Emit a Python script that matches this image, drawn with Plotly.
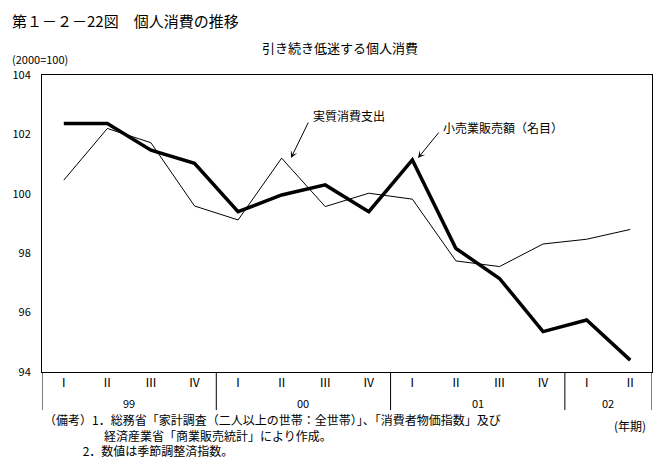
import plotly.graph_objects as go

quarters = ["Ⅰ", "Ⅱ", "Ⅲ", "Ⅳ", "Ⅰ", "Ⅱ", "Ⅲ", "Ⅳ", "Ⅰ", "Ⅱ", "Ⅲ", "Ⅳ", "Ⅰ", "Ⅱ"]
years = ["99", "00", "01", "02"]
year_centers = [1.5, 5.5, 9.5, 12.5]
year_bounds = [-0.5, 3.5, 7.5, 11.5, 13.5]

real_consumption = [100.46, 102.2, 101.72, 99.59, 99.12, 101.2, 99.57, 100.02,
                    99.82, 97.74, 97.55, 98.31, 98.47, 98.8]
retail_sales = [102.37, 102.37, 101.47, 101.03, 99.4, 99.96, 100.3, 99.4,
                101.14, 98.16, 97.15, 95.36, 95.75, 94.4]

yticks = [94, 96, 98, 100, 102, 104]

FONT = "Noto Sans CJK JP"
x = list(range(len(quarters)))

# page body has an 8px margin; compensate so screen positions match
OFF = 8
L, R, T, B = 42, 652, 75, 372  # plot area in screen pixels

fig = go.Figure()
fig.add_trace(go.Scatter(x=x, y=real_consumption, mode="lines",
                         line=dict(color="black", width=1), showlegend=False))
fig.add_trace(go.Scatter(x=x, y=retail_sales, mode="lines",
                         line=dict(color="black", width=3.5), showlegend=False))

ext = (410 - B) / (B - T)
shapes = []
for b in year_bounds:
    shapes.append(dict(type="line", xref="x", yref="paper", x0=b, x1=b,
                       y0=0, y1=-ext, line=dict(color="black", width=1)))

annotations = []
for yc, yl in zip(year_centers, years):
    annotations.append(dict(x=yc, y=-(403 - B) / (B - T), xref="x", yref="paper", text=yl,
                            showarrow=False, yanchor="middle",
                            font=dict(size=11, family=FONT, color="black")))

W, H = 670 - OFF, 475 - OFF
fig.update_layout(
    width=W, height=H,
    margin=dict(l=L - OFF, r=670 - R, t=T - OFF, b=475 - B, autoexpand=False),
    paper_bgcolor="white", plot_bgcolor="white",
    font=dict(family=FONT, size=12, color="black"),
    xaxis=dict(range=[-0.5, 13.5], tickmode="array", tickvals=x, ticktext=quarters,
               showgrid=False, zeroline=False, showline=True, linecolor="black",
               linewidth=1, mirror=True, ticks="", ticklen=0,
               tickfont=dict(size=12, family=FONT)),
    yaxis=dict(range=[94, 104], tickmode="array", tickvals=yticks,
               showgrid=False, zeroline=False, showline=True, linecolor="black",
               linewidth=1, mirror=True, ticks="", ticklabelstandoff=8,
               tickfont=dict(size=11, family=FONT)),
    shapes=shapes,
)

def px(xp):
    return (xp - L) / (R - L)
def py(yp):
    return (B - yp) / (B - T)

def text_ann(xp, yp, text, size=12, xanchor="left", yanchor="middle"):
    return dict(x=px(xp), y=py(yp), xref="paper", yref="paper", text=text,
                showarrow=False, xanchor=xanchor, yanchor=yanchor, align="left",
                font=dict(size=size, family=FONT, color="black"))

def arrow_ann(x0, y0, x1, y1):
    # arrow from (x0,y0) tail to (x1,y1) head, all in screen pixels
    return dict(x=px(x1), y=py(y1), xref="paper", yref="paper",
                ax=x0 - x1, ay=y0 - y1, axref="pixel", ayref="pixel",
                text="", showarrow=True, arrowhead=3, arrowsize=1.2,
                arrowwidth=1, arrowcolor="black")

notes = ("（備考）1．総務省「家計調査（二人以上の世帯：全世帯）」、「消費者物価指数」及び<br>"
         "　　　　　経済産業省「商業販売統計」により作成。<br>"
         "　　　 2．数値は季節調整済指数。")

annotations += [
    text_ann(10, 20, "第１－２－22図　個人消費の推移", size=15),
    text_ann(340, 47, "引き続き低迷する個人消費", size=13, xanchor="center"),
    text_ann(10, 59, "(2000=100)", size=11),
    text_ann(311, 115, "実質消費支出", size=12),
    arrow_ann(309, 121, 291, 158),
    text_ann(441, 127, "小売業販売額（名目）", size=12),
    arrow_ann(440, 131, 418, 158),
    text_ann(42, 434.5, notes, size=12),
    text_ann(612, 425, "(年期)", size=12),
]

fig.update_layout(annotations=annotations)
fig.write_html("out.html")
